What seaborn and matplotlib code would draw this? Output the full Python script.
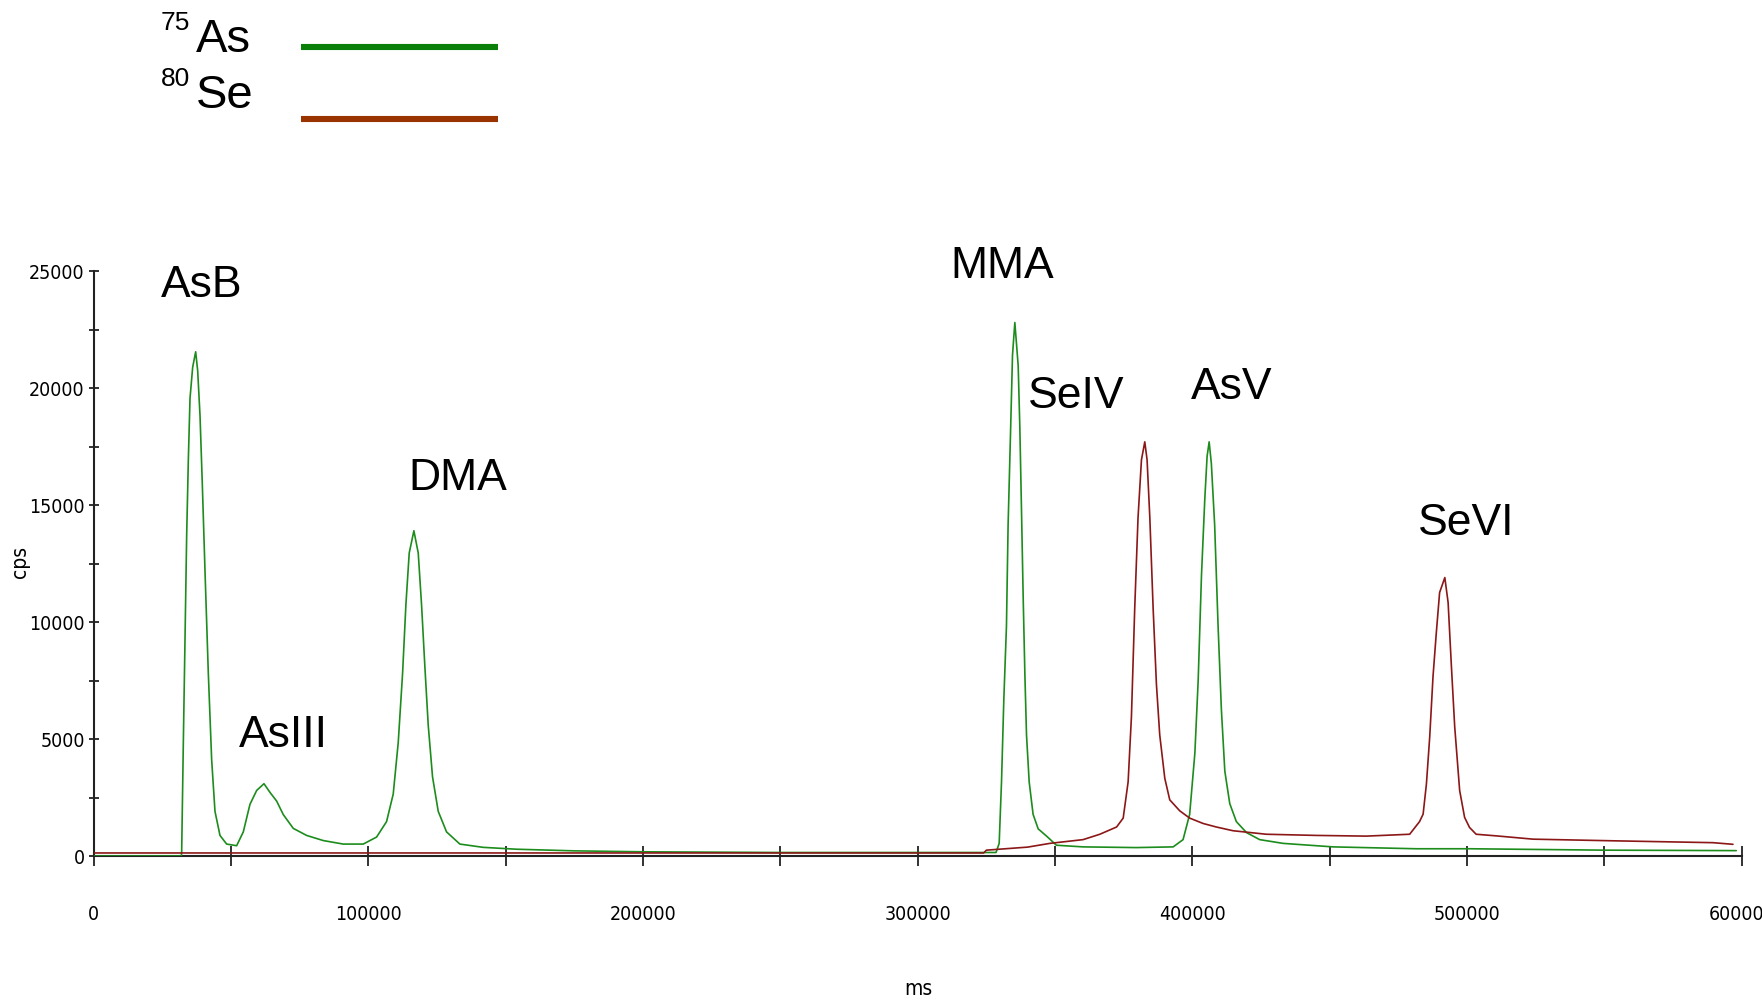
import numpy as np
import pandas as pd
import matplotlib
matplotlib.use("Agg")
import matplotlib.pyplot as plt
from matplotlib.lines import Line2D
from matplotlib import font_manager as fm
import seaborn as sns

# ---- data ----
as_time = [0, 31900, 32010, 32620, 33230, 33830, 34440, 35050, 36020, 37110, 37840, 38690,
           39530, 40500, 41720, 42930, 44140, 45960, 48390, 52030, 54450, 56880, 59310, 61980,
           64160, 66580, 69010, 72650, 77500, 83570, 90850, 98120, 102980, 106610, 109040,
           110860, 112440, 113650, 114860, 116560, 118140, 119350, 120560, 121780, 123350,
           125420, 128450, 133300, 141790, 153920, 175000, 200000, 250000, 300000, 328500,
           329650, 330500, 331350, 332300, 332900, 333800, 334500, 335350, 335960, 336570,
           337170, 337780, 338390, 339000, 339600, 340570, 342000, 343850, 346900, 350500,
           360200, 379600, 393000, 396600, 399000, 400900, 402100, 403300, 404500, 405350,
           406100, 406900, 408100, 409350, 410550, 411800, 413600, 416000, 419700, 424500,
           433000, 451200, 481500, 501000, 550000, 598000]
as_cps = [0, 0, 150, 4850, 9270, 13680, 16920, 19560, 20890, 21550, 20740, 18830,
          15890, 12210, 7800, 4120, 1910, 880, 510, 440, 1030, 2210, 2800, 3090,
          2720, 2350, 1770, 1180, 880, 660, 510, 510, 810, 1470, 2650,
          4850, 7800, 10740, 12950, 13900, 12950, 10740, 8090, 5590, 3380,
          1910, 1030, 510, 370, 290, 220, 180, 150, 150, 150,
          540, 3170, 6720, 9820, 14150, 18160, 21400, 22800, 21880, 20950,
          18320, 14760, 11050, 7800, 5180, 3170, 1780, 1160, 850, 460,
          390, 360, 390, 700, 1780, 4400, 7500, 11980, 15230, 17080,
          17700, 16770, 14150, 9820, 6260, 3630, 2240, 1470, 1000, 700,
          540, 390, 310, 310, 250, 230]

se_time = [0, 100000, 200000, 300000, 324000, 325000, 340000, 348100, 360200, 366300,
           372400, 374800, 376600, 377800, 379000, 380200, 381450, 382660, 383500, 384500,
           385700, 386900, 388100, 389950, 391750, 395400, 399000, 403900, 408700, 414800,
           426900, 445100, 463300, 479100, 482700, 484000, 485200, 486400, 487600, 488800,
           490000, 491900, 493100, 494300, 495500, 497300, 499100, 500900, 503300, 510700,
           524000, 553100, 589500, 596800]
se_cps = [130, 130, 130, 130, 130, 250, 380, 540, 700, 930,
          1240, 1620, 3170, 5950, 10590, 14450, 16930, 17700, 16930, 14450,
          10590, 7340, 5180, 3320, 2400, 1930, 1620, 1390, 1240, 1080,
          930, 880, 850, 930, 1470, 1790, 3080, 5090, 7670, 9540,
          11260, 11900, 10830, 8100, 5520, 2800, 1650, 1220, 930, 860,
          720, 650, 570, 500]

series_names = ["75As", "80Se"]
peak_names = ["AsB", "AsIII", "DMA", "MMA", "SeIV", "AsV", "SeVI"]
peak_label_x = [24400, 53000, 114500, 311900, 340200, 399500, 482100]
peak_label_y = [23900, 4640, 15640, 24720, 19150, 19530, 13720]
x_ticks = [0, 100000, 200000, 300000, 400000, 500000, 600000]
y_ticks = [0, 5000, 10000, 15000, 20000, 25000]

# ---- styling ----
sns.set_style("white")
plt.rcParams["font.family"] = ["Liberation Sans", "DejaVu Sans"]
plt.rcParams["text.color"] = "black"

_names = {f.name for f in fm.fontManager.ttflist}
if "Liberation Sans Narrow" in _names:
    narrow, stretch, tsize = ["Liberation Sans Narrow", "DejaVu Sans"], "normal", 16
else:
    narrow, stretch, tsize = ["DejaVu Sans"], "condensed", 14

fig = plt.figure(figsize=(17.62, 10.02), dpi=100)
ax = fig.add_axes([0.0532, 0.1457, 0.9353, 0.5838])

df = pd.concat([
    pd.DataFrame({"time": as_time, "cps": as_cps, "element": series_names[0]}),
    pd.DataFrame({"time": se_time, "cps": se_cps, "element": series_names[1]}),
], ignore_index=True)

sns.lineplot(data=df, x="time", y="cps", hue="element", hue_order=series_names,
             palette={"75As": "#1c8c1c", "80Se": "#8b1717"}, estimator=None,
             sort=False, legend=False, linewidth=1.2, ax=ax)

ax.set_xlim(0, 600000)
ax.set_ylim(0, 25000)
for s in ["top", "right"]:
    ax.spines[s].set_visible(False)
for s in ["left", "bottom"]:
    ax.spines[s].set_color("#222222")
    ax.spines[s].set_linewidth(1.5)
    ax.spines[s].set_zorder(1)

ax.set_xticks(x_ticks)
ax.set_xticklabels([str(v) for v in x_ticks])
ax.set_xticks(np.arange(50000, 600000, 100000), minor=True)
ax.set_yticks(y_ticks)
ax.set_yticklabels([str(v) for v in y_ticks])
ax.set_yticks(np.arange(2500, 25000, 5000), minor=True)

ax.tick_params(axis="x", which="both", direction="inout", length=14, width=1.3,
               color="#222222", pad=28, bottom=True)
ax.tick_params(axis="y", which="both", direction="inout", length=7, width=1.3,
               color="#222222", pad=3, left=True)
for lab in ax.get_xticklabels() + ax.get_yticklabels():
    lab.set_fontfamily(narrow)
    lab.set_fontstretch(stretch)
    lab.set_fontsize(tsize)
    lab.set_color("black")
ax.set_xlabel("")
ax.set_ylabel("")

fig.text(20 / 1762, 1 - 562 / 1002, "cps", rotation=90, ha="center", va="center",
         fontsize=15, family=narrow, stretch=stretch, color="black")
fig.text(918 / 1762, 1 - 989 / 1002, "ms", ha="center", va="center",
         fontsize=15, family=narrow, stretch=stretch, color="black")

for name, px, py in zip(peak_names, peak_label_x, peak_label_y):
    ax.text(px, py, name, ha="left", va="baseline", fontsize=32, color="black",
            clip_on=False)

# ---- legend (top-left) ----
leg_colors = ["#0a800a", "#993300"]
leg_main = ["As", "Se"]
leg_sup = ["75", "80"]
leg_base = [52, 108]
leg_line_y = [47, 119]
for sup, main, base, ly, col in zip(leg_sup, leg_main, leg_base, leg_line_y, leg_colors):
    fig.text(161 / 1762, 1 - (base - 22) / 1002, sup, fontsize=19, va="baseline",
             ha="left", color="black")
    fig.text(196 / 1762, 1 - base / 1002, main, fontsize=34, va="baseline", ha="left",
             color="black")
    fig.add_artist(Line2D([301 / 1762, 498 / 1762], [1 - ly / 1002, 1 - ly / 1002],
                          transform=fig.transFigure, color=col, linewidth=4.4,
                          solid_capstyle="butt"))

fig.savefig("out.png", dpi=100)
